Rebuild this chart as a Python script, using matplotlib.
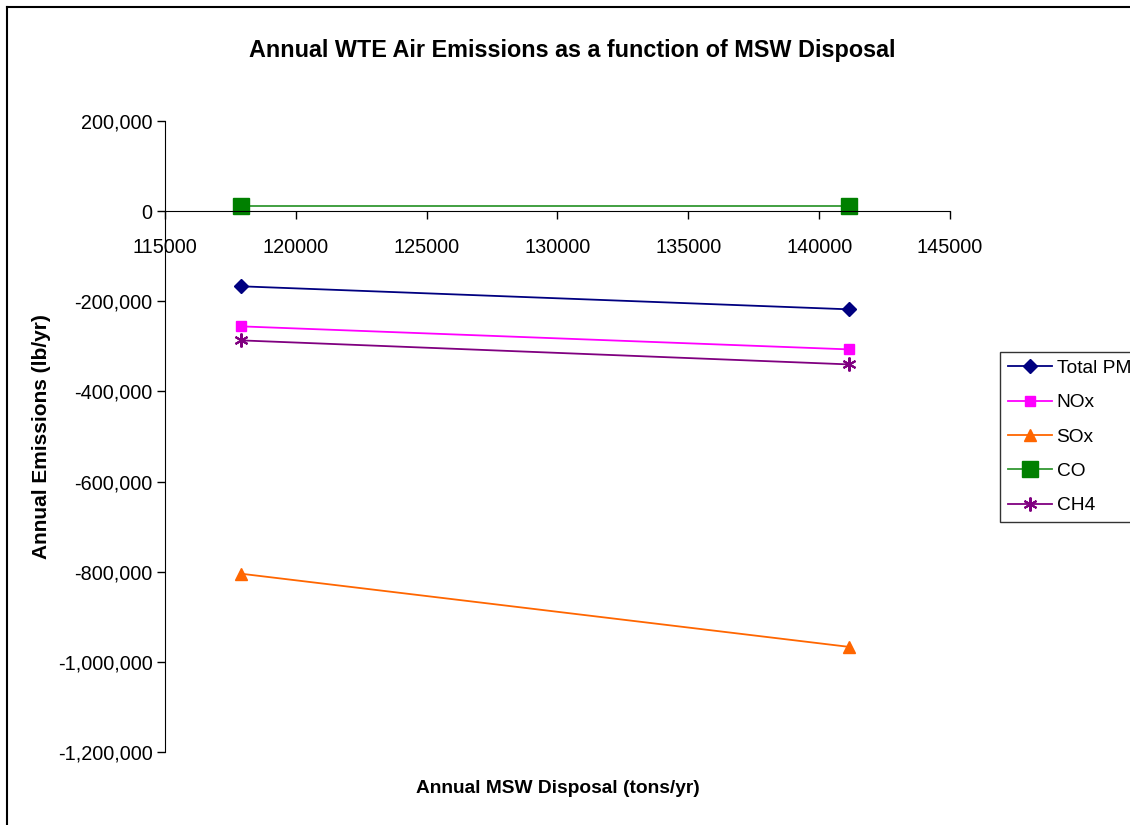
import matplotlib.pyplot as plt
from matplotlib.lines import Line2D
from matplotlib.ticker import FuncFormatter

plt.rcParams['font.family'] = ['Liberation Sans', 'DejaVu Sans']

title = 'Annual WTE Air Emissions as a function of MSW Disposal'
disposal = [117900, 141130]
series_names = ['Total PM', 'NOx', 'SOx', 'CO', 'CH4']
total_pm = [-166700, -217800]
nox = [-255600, -306700]
sox = [-804400, -966700]
co = [11500, 11500]
ch4 = [-286700, -340000]

fig = plt.figure(figsize=(11.3, 8.25), dpi=100)
ax = fig.add_axes([0.146, 0.0885, 0.6947, 0.7648])

ax.plot(disposal, total_pm, color='#000080', marker='D', markersize=7, lw=1.3)
ax.plot(disposal, nox, color='#FF00FF', marker='s', markersize=7, lw=1.3)
ax.plot(disposal, sox, color='#FF6600', marker='^', markersize=8, lw=1.3)
ax.plot(disposal, co, color='#339933', marker='s', markersize=11,
        markerfacecolor='#008000', markeredgecolor='#008000', lw=1.3)
ax.plot(disposal, ch4, color='#800080', marker=(6, 2, 0), markersize=10,
        markeredgewidth=1.5, lw=1.3)

ax.set_xlim(115000, 145000)
ax.set_ylim(-1200000, 200000)
ax.set_xticks(range(115000, 145001, 5000))
ax.set_yticks(range(-1200000, 200001, 200000))
ax.yaxis.set_major_formatter(FuncFormatter(lambda v, p: '{:,.0f}'.format(v)))

ax.spines['top'].set_visible(False)
ax.spines['right'].set_visible(False)
ax.spines['bottom'].set_position(('data', 0))
ax.tick_params(axis='both', direction='out', length=6, labelsize=14.3, width=1)
ax.tick_params(axis='x', pad=13)
ax.tick_params(axis='y', pad=3)

ax.set_title(title, fontsize=16.8, fontweight='bold', pad=46, x=0.519)
ax.set_xlabel('Annual MSW Disposal (tons/yr)', fontsize=13.8, fontweight='bold')
ax.xaxis.set_label_coords(0.5, -0.045)
ax.set_ylabel('Annual Emissions (lb/yr)', fontsize=15, fontweight='bold')
ax.yaxis.set_label_coords(-0.145, 0.5)

leg = ax.legend(series_names, loc='upper left', bbox_to_anchor=(1000 / 1130, 1 - 352 / 825),
                bbox_transform=fig.transFigure, fontsize=13.8, frameon=True, fancybox=False,
                edgecolor='black', borderpad=0.4, labelspacing=0.88, handlelength=2.3,
                handletextpad=0.25, borderaxespad=0)
leg.get_frame().set_linewidth(1)

# outer chart border
fig.add_artist(Line2D([7 / 1130, 7 / 1130], [0, 1 - 7 / 825], color='black', lw=1.5,
                      transform=fig.transFigure))
fig.add_artist(Line2D([7 / 1130, 1], [1 - 7 / 825, 1 - 7 / 825], color='black', lw=1.5,
                      transform=fig.transFigure))

fig.savefig('out.png', dpi=100)
